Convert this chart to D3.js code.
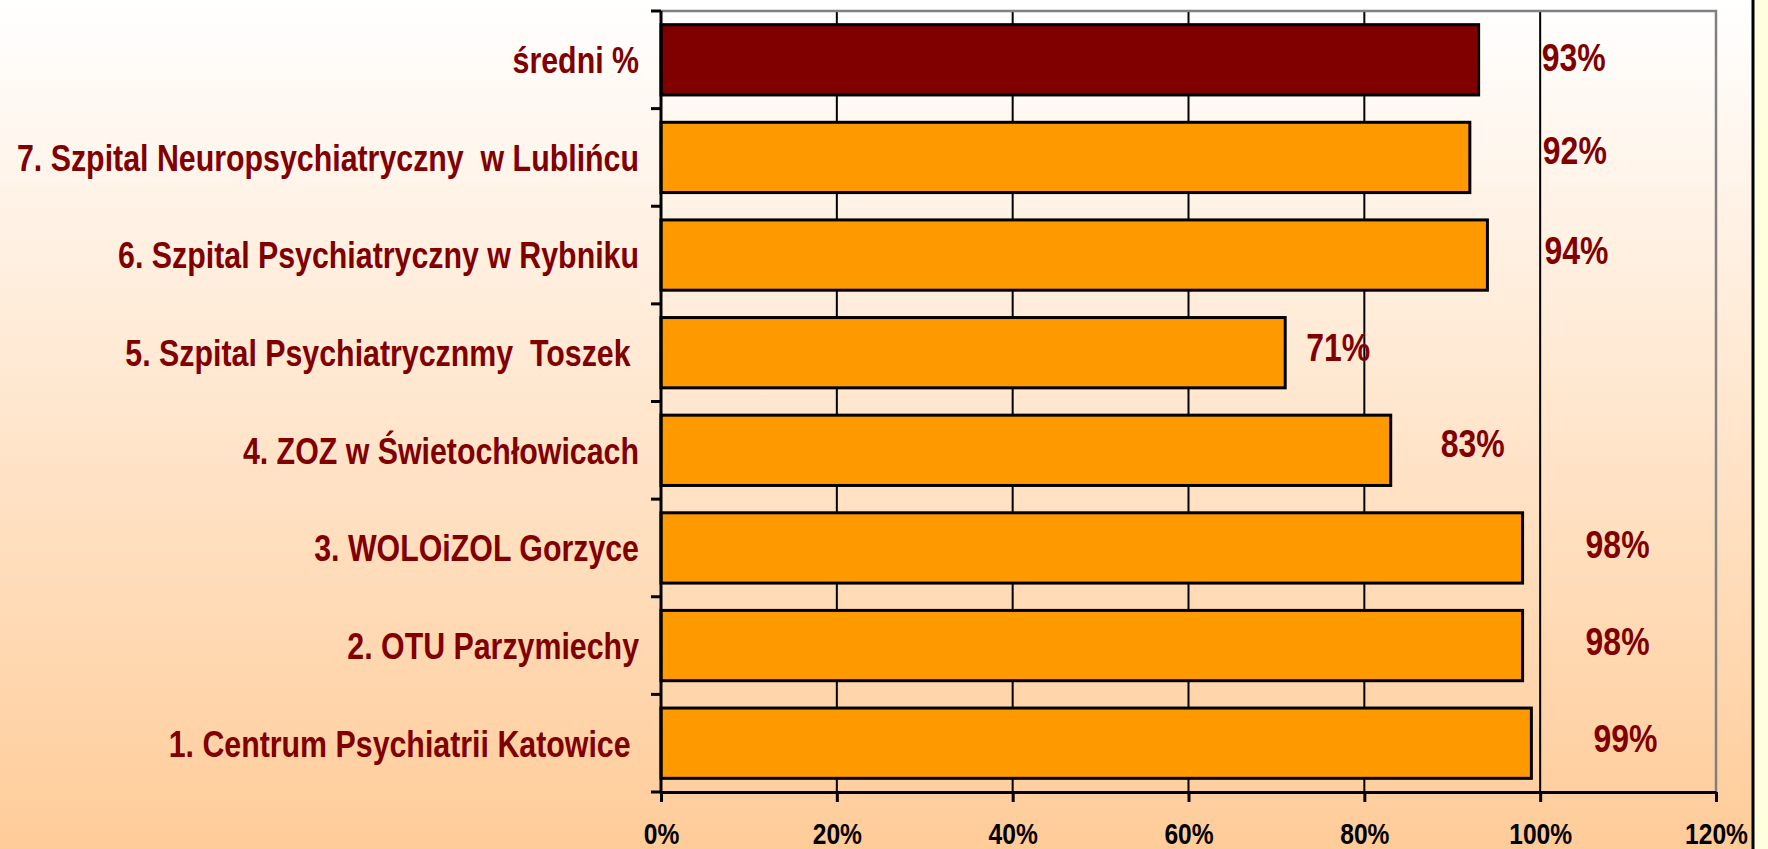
<!DOCTYPE html>
<html>
<head>
<meta charset="utf-8">
<script src="https://cdn.jsdelivr.net/npm/d3@7"></script>
<style>
  html, body { margin: 0; padding: 0; overflow: hidden; }
  svg { display: block; }
  text { font-family: "Liberation Sans", Arial, sans-serif; font-weight: bold; white-space: pre; }
</style>
</head>
<body>
<div id="chart"></div>
<script>
    // data, top to bottom
    var categories = [
      "średni %",
      "7. Szpital Neuropsychiatryczny  w Lublińcu",
      "6. Szpital Psychiatryczny w Rybniku",
      "5. Szpital Psychiatrycznmy  Toszek ",
      "4. ZOZ w Świetochłowicach",
      "3. WOLOiZOL Gorzyce",
      "2. OTU Parzymiechy",
      "1. Centrum Psychiatrii Katowice "
    ];
    var values = [0.93, 0.92, 0.94, 0.71, 0.83, 0.98, 0.98, 0.99];
    var valueLabels = ["93%", "92%", "94%", "71%", "83%", "98%", "98%", "99%"];
    var xTicks = [0, 0.2, 0.4, 0.6, 0.8, 1.0, 1.2];

    // where each value label was dragged to (px right of bar end, px up/down)
    var labelShift = [63, 73, 57, 21, 50, 63, 63, 62];
    var labelLift = [-3, -7, -5, -6, -7, -4, -5, -5];

    // pas de police "narrow" installée : on serre l'Arial-like horizontalement
    var narrow = 0.82;

    var W = 1768, H = 849;
    var margin = { top: 11, left: 661, right: 52, bottom: 57 },
        width = W - margin.left - margin.right,
        height = H - margin.top - margin.bottom;

    var svg = d3.select("#chart").append("svg")
                .attr("width", W)
                .attr("height", H);

    // fond dégradé
    var grad = svg.append("defs").append("linearGradient")
                  .attr("id", "bg").attr("x1", 0).attr("y1", 0).attr("x2", 0).attr("y2", 1);
    grad.append("stop").attr("offset", "0%").attr("stop-color", "#ffffff");
    grad.append("stop").attr("offset", "100%").attr("stop-color", "#ffcc99");
    svg.append("rect").attr("width", W).attr("height", H).attr("fill", "url(#bg)");

    // bande jaune à droite
    svg.append("rect").attr("x", 1753).attr("y", 0).attr("width", W - 1753).attr("height", H).attr("fill", "#ffffe0");
    svg.append("line").attr("x1", 1753).attr("x2", 1753).attr("y1", 0).attr("y2", H)
       .attr("stroke", "#000").attr("stroke-width", 3);

    var g = svg.append("g").attr("transform", "translate(" + margin.left + "," + margin.top + ")");

    var x = d3.scaleLinear().domain([0, 1.2]).range([0, width]);
    var y = d3.scaleBand().domain(categories).range([0, height])
              .paddingInner(0.28).paddingOuter(0.14);

    // grille verticale
    g.append("g")
      .selectAll("line")
      .data(xTicks.filter(function(d) { return d > 0 && d < 1.2; }))
      .enter().append("line")
      .attr("x1", function(d) { return x(d); })
      .attr("x2", function(d) { return x(d); })
      .attr("y1", 0).attr("y2", height)
      .attr("stroke", "#000").attr("stroke-width", 2);

    // bord du plot (haut et droite, gris)
    g.append("path")
      .attr("d", "M0,0H" + x(1.2) + "V" + height)
      .attr("fill", "none").attr("stroke", "#808080").attr("stroke-width", 2.5);

    // barres
    g.selectAll(".bar")
      .data(values)
      .enter().append("rect")
      .attr("class", "bar")
      .attr("x", x(0))
      .attr("y", function(d, i) { return y(categories[i]); })
      .attr("width", function(d) { return x(d) - x(0); })
      .attr("height", y.bandwidth())
      .attr("fill", function(d, i) { return i === 0 ? "#800000" : "#ff9900"; })
      .attr("stroke", "#000").attr("stroke-width", 3);

    // étiquettes des valeurs
    g.selectAll(".val")
      .data(values)
      .enter().append("text")
      .attr("class", "val")
      .attr("transform", function(d, i) {
        return "translate(" + (x(d) + labelShift[i]) + "," + (y(categories[i]) + y.bandwidth() / 2 + labelLift[i]) + ") scale(" + narrow + ",1)";
      })
      .attr("dy", "0.36em")
      .style("font-size", "39px")
      .style("fill", "#800000")
      .text(function(d, i) { return valueLabels[i]; });

    // axe vertical, graduations entre les catégories
    var step = y.step();
    var bounds = d3.range(categories.length + 1).map(function(i) { return i * step; });
    g.append("line").attr("x1", 0).attr("x2", 0).attr("y1", 0).attr("y2", height)
      .attr("stroke", "#000").attr("stroke-width", 3);
    g.selectAll(".ytick")
      .data(bounds)
      .enter().append("line")
      .attr("class", "ytick")
      .attr("x1", -10).attr("x2", 0)
      .attr("y1", function(d) { return d; })
      .attr("y2", function(d) { return d; })
      .attr("stroke", "#000").attr("stroke-width", 3);

    g.selectAll(".cat")
      .data(categories)
      .enter().append("text")
      .attr("class", "cat")
      .attr("transform", function(d) {
        return "translate(-22," + (y(d) + y.bandwidth() / 2) + ") scale(" + narrow + ",1)";
      })
      .attr("dy", "0.36em")
      .style("text-anchor", "end")
      .style("font-size", "37px")
      .style("fill", "#800000")
      .text(function(d) { return d; });

    // axe horizontal
    var xAxis = g.append("g")
      .attr("class", "x axis")
      .attr("transform", "translate(0," + height + ")")
      .call(d3.axisBottom(x).tickValues(xTicks).tickFormat(d3.format(".0%"))
              .tickSize(10).tickSizeOuter(0).tickPadding(21));
    xAxis.select(".domain").attr("stroke", "#000").attr("stroke-width", 3);
    xAxis.selectAll(".tick line").attr("stroke", "#000").attr("stroke-width", 3);
    xAxis.selectAll(".tick text")
      .attr("fill", "#000")
      .attr("transform", "scale(" + narrow + ",1)")
      .style("font-size", "30px")
      .style("font-family", null);
</script>
</body>
</html>
